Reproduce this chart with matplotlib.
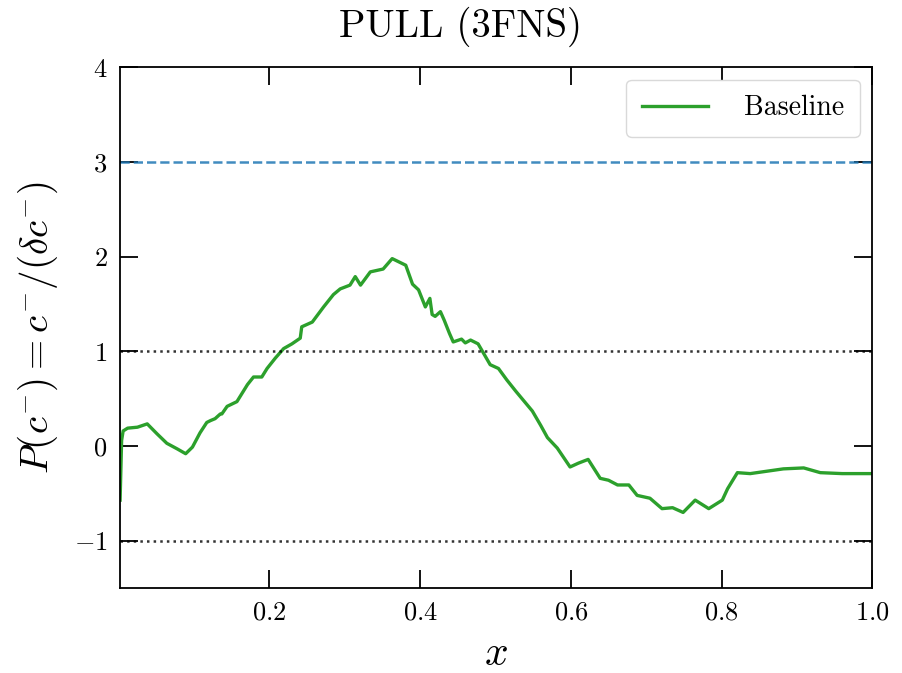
#plot.py
#pull of c^- along x, baseline fit (3FNS)

import matplotlib
matplotlib.use("Agg")
import matplotlib.pyplot as plt
import numpy as np

plt.rcParams['font.family'] = 'serif'
plt.rcParams['font.serif'] = ['cmr10', 'DejaVu Serif']
plt.rcParams['mathtext.fontset'] = 'cm'
plt.rcParams['axes.formatter.use_mathtext'] = True

# values
x_vals = [0.002, 0.004, 0.006, 0.012, 0.025, 0.038, 0.051, 0.064, 0.078, 0.089,
          0.098, 0.108, 0.117, 0.122, 0.128, 0.135, 0.137, 0.144, 0.157, 0.171,
          0.179, 0.190, 0.197, 0.208, 0.219, 0.230, 0.241, 0.243, 0.257, 0.272,
          0.285, 0.294, 0.307, 0.314, 0.321, 0.334, 0.351, 0.363, 0.381, 0.390,
          0.398, 0.407, 0.413, 0.416, 0.420, 0.427, 0.432, 0.439, 0.444, 0.455,
          0.460, 0.467, 0.477, 0.493, 0.504, 0.515, 0.527, 0.549, 0.560, 0.569,
          0.582, 0.599, 0.610, 0.623, 0.639, 0.650, 0.662, 0.677, 0.688, 0.705,
          0.721, 0.735, 0.749, 0.765, 0.775, 0.783, 0.801, 0.808, 0.821, 0.838,
          0.882, 0.909, 0.931, 0.960, 1.000]
pull_vals = [-0.57, 0.06, 0.16, 0.19, 0.20, 0.235, 0.13, 0.03, -0.03, -0.08,
             -0.01, 0.14, 0.25, 0.27, 0.29, 0.34, 0.34, 0.42, 0.47, 0.65,
             0.73, 0.73, 0.82, 0.93, 1.03, 1.08, 1.14, 1.26, 1.31, 1.47,
             1.60, 1.66, 1.70, 1.79, 1.70, 1.84, 1.87, 1.98, 1.91, 1.71,
             1.65, 1.47, 1.56, 1.39, 1.37, 1.42, 1.33, 1.19, 1.10, 1.13,
             1.09, 1.12, 1.08, 0.86, 0.82, 0.70, 0.58, 0.37, 0.22, 0.09,
             -0.02, -0.22, -0.18, -0.14, -0.34, -0.36, -0.41, -0.41, -0.52, -0.55,
             -0.66, -0.65, -0.70, -0.57, -0.62, -0.66, -0.57, -0.45, -0.28, -0.29,
             -0.24, -0.23, -0.28, -0.29, -0.29]

fig = plt.figure(figsize=(9.03, 6.73), dpi=100)
ax = fig.add_axes([0.133, 0.126, 0.833, 0.774])

ax.plot(x_vals, pull_vals, color='tab:green', lw=2.4, label='Baseline')
ax.axhline(3, color='tab:blue', ls='--', lw=1.8, alpha=0.85)
ax.axhline(1, color='k', ls=':', lw=1.8, alpha=0.8)
ax.axhline(-1, color='k', ls=':', lw=1.8, alpha=0.8)

ax.set_xlim(0.002, 1.0)
ax.set_ylim(-1.5, 4)
ax.set_xticks([0.2, 0.4, 0.6, 0.8, 1.0])
ax.set_yticks([-1, 0, 1, 2, 3, 4])
ax.tick_params(direction='in', top=True, right=True, length=13, width=1.3,
               labelsize=19, pad=9)
for s in ax.spines.values():
    s.set_linewidth(1.3)

ax.set_xlabel(r'$x$', fontsize=30, labelpad=8)
ax.set_ylabel(r'$P(c^{-}) = c^{-}/(\delta c^{-})$', fontsize=28, labelpad=10)
ax.set_title('PULL (3FNS)', fontsize=28, pad=22, x=0.452)

ax.legend(loc='upper right', fontsize=20, handlelength=2.4, borderpad=0.55,
          handletextpad=1.3, framealpha=1, edgecolor='0.85',
          borderaxespad=0.45)

fig.savefig('out.png', dpi=100)
